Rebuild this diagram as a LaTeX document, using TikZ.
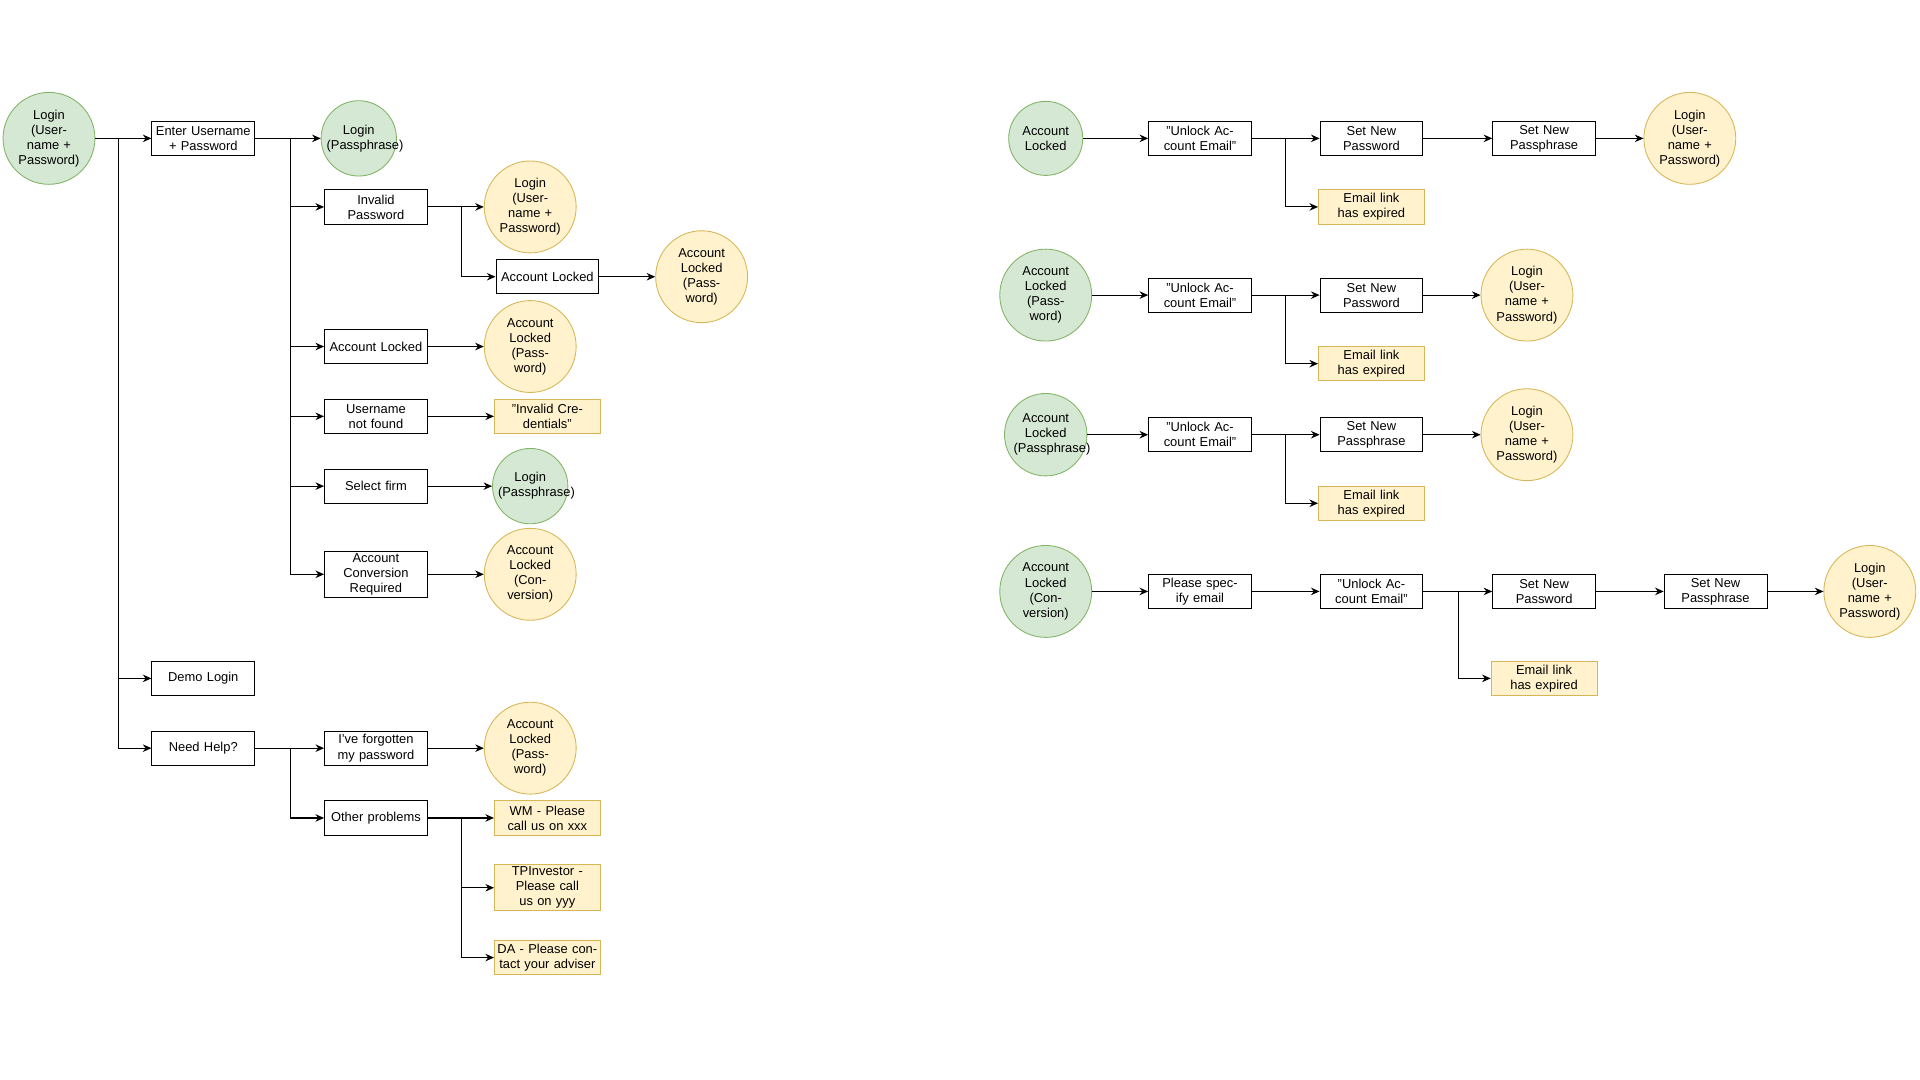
\documentclass[tikz,border=0pt]{standalone}
\usepackage{fontspec}
\setmainfont{Liberation Sans}
\usetikzlibrary{arrows.meta}
\begin{document}
\begin{tikzpicture}[x=0.02cm,y=-0.02cm,
  every node/.style={font=\fontsize{6}{7}\selectfont,align=center,inner sep=1pt},
  box/.style={draw=black,fill=white,minimum width=1.68cm,minimum height=0.56cm,text width=1.6cm},
  ybox/.style={draw={rgb,255:red,214;green,182;blue,86},fill={rgb,255:red,255;green,242;blue,204},minimum width=1.68cm,minimum height=0.56cm,text width=1.66cm},
  gc/.style={circle,draw={rgb,255:red,130;green,179;blue,102},fill={rgb,255:red,213;green,232;blue,212},minimum size=1.12cm,text width=1.05cm},
  yc/.style={circle,draw={rgb,255:red,214;green,182;blue,86},fill={rgb,255:red,255;green,242;blue,204},minimum size=1.12cm,text width=1.05cm},
  arr/.style={-{Stealth[length=4pt,width=3.5pt]},line width=0.5pt}]
\useasboundingbox (0,0) rectangle (1568,882);
% Left
\node[gc] (l1) at (40,113) {Login (Username + Password)};
\node[box] (enter) at (166,113) {Enter Username + Password};
\node[box] (demo) at (166,554) {Demo Login};
\node[box] (help) at (166,611) {Need Help?};
\node[gc] (lpp) at (293,113) {Login (Passphrase)};
\node[box] (inv) at (307,169) {Invalid Password};
\node[box] (al) at (307,283) {Account Locked};
\node[box] (unf) at (307,340) {Username not found};
\node[box] (sf) at (307,397) {Select firm};
\node[box] (acr) at (307,469) {Account Conversion Required};
\node[yc] (invc) at (433,169) {Login (Username + Password)};
\node[box] (al2) at (447,226) {Account Locked};
\node[yc] (al2c) at (573,226) {Account Locked (Password)};
\node[yc] (alc) at (433,283) {Account Locked (Password)};
\node[ybox] (ic) at (447,340) {"Invalid Credentials"};
\node[gc] (sfc) at (433,397) {Login (Passphrase)};
\node[yc] (acrc) at (433,469) {Account Locked (Conversion)};
\node[box] (forg) at (307,611) {I've forgotten my password};
\node[box] (oth) at (307,668) {Other problems};
\node[yc] (forgc) at (433,611) {Account Locked (Password)};
\node[ybox] (wm) at (447,668) {WM - Please call us on xxx};
\node[ybox] (tp) at (447,725) {TPInvestor - Please call us on yyy};
\node[ybox] (da) at (447,782) {DA - Please contact your adviser};
\draw[arr] (l1) -- (enter);
\draw[arr] (l1.east) -- (97,113) |- (demo);
\draw[arr] (l1.east) -- (97,113) |- (help);
\draw[arr] (enter) -- (lpp);
\foreach \t in {inv,al,unf,sf,acr} \draw[arr] (enter.east) -- (237,113) |- (\t);
\draw[arr] (inv) -- (invc);
\draw[arr] (inv.east) -- (377,169) |- (al2);
\draw[arr] (al2) -- (al2c);
\draw[arr] (al) -- (alc);
\draw[arr] (unf) -- (ic);
\draw[arr] (sf) -- (sfc);
\draw[arr] (acr) -- (acrc);
\draw[arr] (help) -- (forg);
\draw[arr] (help.east) -- (237,611) |- (oth);
\draw[arr] (forg) -- (forgc);
\draw[arr] (oth) -- (wm);
\draw[arr] (oth.east) -- (377,668) |- (tp);
\draw[arr] (oth.east) -- (377,668) |- (da);
% Right row 1
\node[gc] (a1) at (854,113) {Account Locked};
\node[box] (u1) at (980,113) {"Unlock Account Email"};
\node[box] (p1) at (1120,113) {Set New Password};
\node[ybox] (e1) at (1120,169) {Email link has expired};
\node[box] (q1) at (1261,113) {Set New Passphrase};
\node[yc] (c1) at (1380,113) {Login (Username + Password)};
\draw[arr] (a1) -- (u1); \draw[arr] (u1) -- (p1);
\draw[arr] (u1.east) -- (1050,113) |- (e1);
\draw[arr] (p1) -- (q1); \draw[arr] (q1) -- (c1);
% Row 2
\node[gc] (a2) at (854,241) {Account Locked (Password)};
\node[box] (u2) at (980,241) {"Unlock Account Email"};
\node[box] (p2) at (1120,241) {Set New Password};
\node[ybox] (e2) at (1120,297) {Email link has expired};
\node[yc] (c2) at (1247,241) {Login (Username + Password)};
\draw[arr] (a2) -- (u2); \draw[arr] (u2) -- (p2);
\draw[arr] (u2.east) -- (1050,241) |- (e2);
\draw[arr] (p2) -- (c2);
% Row 3
\node[gc] (a3) at (854,355) {Account Locked (Passphrase)};
\node[box] (u3) at (980,355) {"Unlock Account Email"};
\node[box] (p3) at (1120,355) {Set New Passphrase};
\node[ybox] (e3) at (1120,411) {Email link has expired};
\node[yc] (c3) at (1247,355) {Login (Username + Password)};
\draw[arr] (a3) -- (u3); \draw[arr] (u3) -- (p3);
\draw[arr] (u3.east) -- (1050,355) |- (e3);
\draw[arr] (p3) -- (c3);
% Row 4
\node[gc] (a4) at (854,483) {Account Locked (Conversion)};
\node[box] (s4) at (980,483) {Please specify email};
\node[box] (u4) at (1120,483) {"Unlock Account Email"};
\node[box] (p4) at (1261,483) {Set New Password};
\node[ybox] (e4) at (1261,554) {Email link has expired};
\node[box] (q4) at (1401,483) {Set New Passphrase};
\node[yc] (c4) at (1527,483) {Login (Username + Password)};
\draw[arr] (a4) -- (s4); \draw[arr] (s4) -- (u4); \draw[arr] (u4) -- (p4);
\draw[arr] (u4.east) -- (1191,483) |- (e4);
\draw[arr] (p4) -- (q4); \draw[arr] (q4) -- (c4);
\end{tikzpicture}
\end{document}
